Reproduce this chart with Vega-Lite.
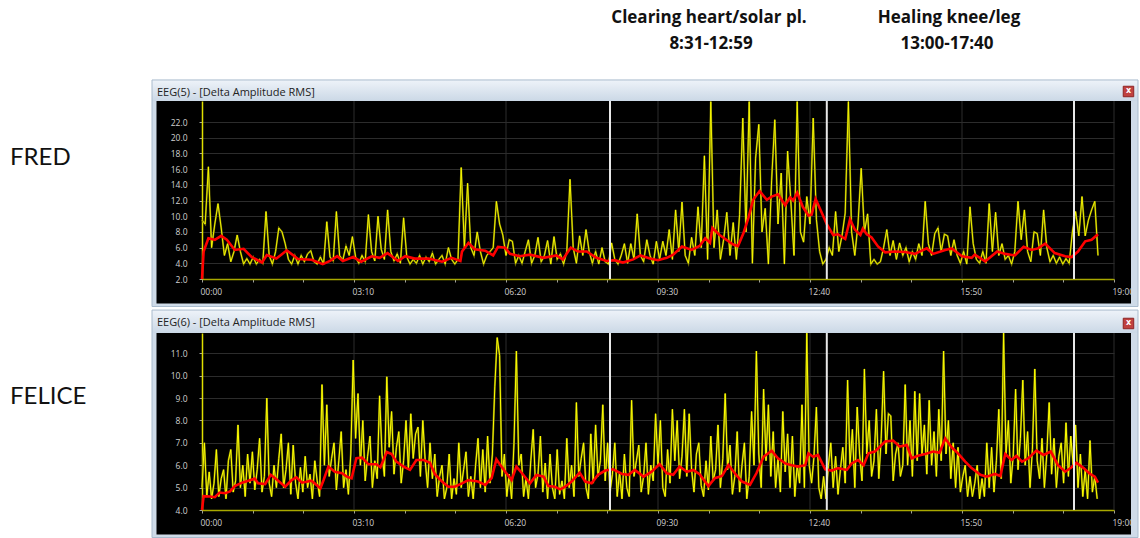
{
"$schema": "https://vega.github.io/schema/vega-lite/v6.json",
"width": 1140, "height": 538,
"autosize": {"type": "none"},
"padding": 0,
"background": "#ffffff",
"config": {"view": {"stroke": null, "fill": "#000000"}},
"datasets": {
"ty": [{"t":0,"v":9.5},{"t":4,"v":9.0},{"t":8,"v":16.3},{"t":12,"v":6.0},{"t":16,"v":9.0},{"t":20,"v":11.6},{"t":24,"v":8.5},{"t":28,"v":5.0},{"t":32,"v":6.5},{"t":36,"v":4.2},{"t":40,"v":5.5},{"t":44,"v":7.6},{"t":48,"v":5.5},{"t":52,"v":3.9},{"t":56,"v":4.6},{"t":60,"v":3.9},{"t":64,"v":4.8},{"t":68,"v":3.9},{"t":72,"v":4.5},{"t":76,"v":4.0},{"t":80,"v":10.6},{"t":84,"v":5.0},{"t":88,"v":3.9},{"t":92,"v":5.5},{"t":96,"v":8.5},{"t":100,"v":8.0},{"t":104,"v":6.5},{"t":108,"v":4.5},{"t":112,"v":3.9},{"t":116,"v":5.0},{"t":120,"v":3.9},{"t":124,"v":5.0},{"t":128,"v":4.2},{"t":132,"v":5.2},{"t":136,"v":5.6},{"t":140,"v":4.2},{"t":144,"v":3.9},{"t":148,"v":4.8},{"t":152,"v":3.9},{"t":156,"v":9.3},{"t":160,"v":4.8},{"t":164,"v":4.3},{"t":168,"v":10.6},{"t":172,"v":5.0},{"t":176,"v":4.4},{"t":180,"v":6.2},{"t":184,"v":5.0},{"t":188,"v":7.4},{"t":192,"v":4.8},{"t":196,"v":4.0},{"t":200,"v":5.0},{"t":204,"v":4.2},{"t":208,"v":10.2},{"t":212,"v":5.5},{"t":216,"v":4.3},{"t":220,"v":10.0},{"t":224,"v":5.8},{"t":228,"v":4.5},{"t":232,"v":10.8},{"t":236,"v":5.5},{"t":240,"v":4.3},{"t":244,"v":5.2},{"t":248,"v":4.0},{"t":252,"v":9.8},{"t":256,"v":4.8},{"t":260,"v":3.9},{"t":264,"v":4.5},{"t":268,"v":4.0},{"t":272,"v":5.0},{"t":276,"v":3.9},{"t":280,"v":4.8},{"t":284,"v":4.2},{"t":288,"v":5.3},{"t":292,"v":3.9},{"t":296,"v":4.5},{"t":300,"v":5.0},{"t":304,"v":3.9},{"t":308,"v":6.0},{"t":312,"v":4.5},{"t":316,"v":3.9},{"t":320,"v":4.5},{"t":324,"v":16.2},{"t":328,"v":6.0},{"t":332,"v":14.2},{"t":336,"v":6.0},{"t":340,"v":5.0},{"t":344,"v":8.0},{"t":348,"v":5.5},{"t":352,"v":3.9},{"t":356,"v":5.0},{"t":360,"v":5.5},{"t":364,"v":6.0},{"t":368,"v":11.9},{"t":372,"v":9.0},{"t":376,"v":7.6},{"t":380,"v":5.0},{"t":384,"v":7.0},{"t":388,"v":6.8},{"t":392,"v":4.0},{"t":396,"v":5.0},{"t":400,"v":4.0},{"t":404,"v":5.5},{"t":408,"v":7.0},{"t":412,"v":4.0},{"t":416,"v":5.0},{"t":420,"v":7.3},{"t":424,"v":4.2},{"t":428,"v":5.0},{"t":432,"v":6.9},{"t":436,"v":3.9},{"t":440,"v":7.4},{"t":444,"v":4.5},{"t":448,"v":5.2},{"t":452,"v":3.9},{"t":456,"v":5.5},{"t":460,"v":14.7},{"t":464,"v":6.0},{"t":468,"v":4.0},{"t":472,"v":7.5},{"t":476,"v":5.0},{"t":480,"v":8.3},{"t":484,"v":5.5},{"t":488,"v":4.0},{"t":492,"v":5.5},{"t":496,"v":3.9},{"t":500,"v":6.0},{"t":504,"v":4.2},{"t":508,"v":3.9},{"t":512,"v":6.6},{"t":516,"v":4.5},{"t":520,"v":3.9},{"t":524,"v":5.0},{"t":528,"v":6.5},{"t":532,"v":4.0},{"t":536,"v":6.5},{"t":540,"v":4.5},{"t":544,"v":10.3},{"t":548,"v":5.0},{"t":552,"v":4.2},{"t":556,"v":7.0},{"t":560,"v":5.0},{"t":564,"v":3.9},{"t":568,"v":6.8},{"t":572,"v":4.5},{"t":576,"v":6.8},{"t":580,"v":5.0},{"t":584,"v":8.3},{"t":588,"v":4.5},{"t":592,"v":10.8},{"t":596,"v":5.5},{"t":600,"v":11.8},{"t":604,"v":5.0},{"t":608,"v":4.0},{"t":612,"v":7.3},{"t":616,"v":5.0},{"t":620,"v":11.2},{"t":624,"v":6.0},{"t":628,"v":17.7},{"t":632,"v":4.5},{"t":636,"v":24.6},{"t":640,"v":6.0},{"t":644,"v":10.8},{"t":648,"v":4.5},{"t":652,"v":7.0},{"t":656,"v":10.5},{"t":660,"v":5.0},{"t":664,"v":9.2},{"t":668,"v":4.5},{"t":672,"v":10.2},{"t":676,"v":22.5},{"t":680,"v":8.0},{"t":684,"v":24.6},{"t":688,"v":4.0},{"t":692,"v":17.4},{"t":696,"v":21.7},{"t":700,"v":8.0},{"t":704,"v":11.0},{"t":708,"v":3.9},{"t":712,"v":14.5},{"t":716,"v":22.3},{"t":720,"v":9.0},{"t":724,"v":15.5},{"t":728,"v":3.9},{"t":732,"v":18.3},{"t":736,"v":12.0},{"t":740,"v":5.0},{"t":744,"v":24.6},{"t":748,"v":8.0},{"t":752,"v":6.7},{"t":756,"v":12.5},{"t":760,"v":9.0},{"t":764,"v":22.5},{"t":768,"v":9.6},{"t":772,"v":5.5},{"t":776,"v":3.9},{"t":780,"v":4.5},{"t":784,"v":6.0},{"t":788,"v":5.0},{"t":792,"v":10.6},{"t":796,"v":5.5},{"t":800,"v":7.5},{"t":804,"v":10.4},{"t":808,"v":24.6},{"t":812,"v":8.0},{"t":816,"v":5.0},{"t":820,"v":9.0},{"t":824,"v":16.1},{"t":828,"v":8.0},{"t":832,"v":10.3},{"t":836,"v":3.9},{"t":840,"v":4.5},{"t":844,"v":3.9},{"t":848,"v":4.2},{"t":852,"v":6.0},{"t":856,"v":8.3},{"t":860,"v":5.0},{"t":864,"v":6.9},{"t":868,"v":4.5},{"t":872,"v":6.6},{"t":876,"v":5.0},{"t":880,"v":6.0},{"t":884,"v":4.2},{"t":888,"v":5.5},{"t":892,"v":4.5},{"t":896,"v":6.5},{"t":900,"v":5.0},{"t":904,"v":11.9},{"t":908,"v":6.5},{"t":912,"v":5.0},{"t":916,"v":7.8},{"t":920,"v":8.5},{"t":924,"v":5.5},{"t":928,"v":7.7},{"t":932,"v":7.5},{"t":936,"v":5.0},{"t":940,"v":7.0},{"t":944,"v":5.0},{"t":948,"v":4.0},{"t":952,"v":5.5},{"t":956,"v":3.9},{"t":960,"v":11.2},{"t":964,"v":6.5},{"t":968,"v":4.5},{"t":972,"v":4.0},{"t":976,"v":5.5},{"t":980,"v":4.0},{"t":984,"v":11.6},{"t":988,"v":5.5},{"t":992,"v":10.5},{"t":996,"v":5.0},{"t":1000,"v":6.5},{"t":1004,"v":4.5},{"t":1008,"v":5.0},{"t":1012,"v":3.9},{"t":1016,"v":5.5},{"t":1020,"v":11.9},{"t":1024,"v":7.0},{"t":1028,"v":10.8},{"t":1032,"v":5.5},{"t":1036,"v":4.2},{"t":1040,"v":8.0},{"t":1044,"v":7.8},{"t":1048,"v":5.0},{"t":1052,"v":10.8},{"t":1056,"v":6.0},{"t":1060,"v":4.2},{"t":1064,"v":5.0},{"t":1068,"v":4.0},{"t":1072,"v":4.8},{"t":1076,"v":3.9},{"t":1080,"v":4.6},{"t":1084,"v":4.0},{"t":1088,"v":8.0},{"t":1092,"v":10.6},{"t":1096,"v":7.5},{"t":1100,"v":12.5},{"t":1104,"v":7.5},{"t":1108,"v":9.5},{"t":1112,"v":10.8},{"t":1116,"v":11.9},{"t":1120,"v":5.0}],
"tr": [{"t":0,"v":2.0},{"t":2,"v":5.5},{"t":8,"v":7.2},{"t":16,"v":7.0},{"t":24,"v":7.5},{"t":31,"v":7.0},{"t":41,"v":5.7},{"t":52,"v":5.85},{"t":62,"v":4.8},{"t":75,"v":4.1},{"t":81,"v":5.05},{"t":93,"v":4.6},{"t":106,"v":5.65},{"t":120,"v":4.55},{"t":137,"v":4.46},{"t":151,"v":3.9},{"t":160,"v":4.3},{"t":169,"v":4.9},{"t":176,"v":4.3},{"t":189,"v":4.8},{"t":199,"v":4.2},{"t":212,"v":4.9},{"t":222,"v":4.7},{"t":232,"v":5.3},{"t":245,"v":4.3},{"t":254,"v":4.9},{"t":266,"v":4.6},{"t":283,"v":4.6},{"t":300,"v":4.2},{"t":312,"v":4.7},{"t":323,"v":4.3},{"t":325,"v":5.5},{"t":333,"v":6.6},{"t":341,"v":5.8},{"t":354,"v":5.6},{"t":364,"v":5.0},{"t":370,"v":6.1},{"t":379,"v":6.0},{"t":385,"v":5.2},{"t":397,"v":4.9},{"t":410,"v":5.1},{"t":427,"v":4.7},{"t":443,"v":5.0},{"t":451,"v":4.5},{"t":461,"v":6.0},{"t":470,"v":5.5},{"t":481,"v":5.5},{"t":493,"v":4.7},{"t":506,"v":4.3},{"t":516,"v":4.4},{"t":526,"v":4.1},{"t":539,"v":4.5},{"t":548,"v":5.0},{"t":560,"v":4.6},{"t":570,"v":4.4},{"t":581,"v":4.7},{"t":589,"v":5.1},{"t":600,"v":6.15},{"t":612,"v":5.7},{"t":622,"v":6.2},{"t":629,"v":7.2},{"t":635,"v":6.6},{"t":638,"v":8.5},{"t":647,"v":7.6},{"t":664,"v":6.4},{"t":670,"v":6.2},{"t":677,"v":7.9},{"t":683,"v":9.8},{"t":689,"v":12.1},{"t":697,"v":13.2},{"t":706,"v":12.1},{"t":712,"v":12.5},{"t":720,"v":12.8},{"t":729,"v":11.4},{"t":735,"v":12.4},{"t":739,"v":12.0},{"t":744,"v":13.0},{"t":751,"v":11.2},{"t":758,"v":10.1},{"t":762,"v":10.2},{"t":767,"v":12.2},{"t":774,"v":10.6},{"t":781,"v":9.0},{"t":789,"v":7.6},{"t":795,"v":7.7},{"t":804,"v":7.1},{"t":810,"v":9.6},{"t":816,"v":8.3},{"t":823,"v":7.6},{"t":826,"v":8.4},{"t":831,"v":7.7},{"t":837,"v":7.3},{"t":845,"v":6.15},{"t":854,"v":5.4},{"t":866,"v":5.5},{"t":879,"v":5.45},{"t":891,"v":5.2},{"t":906,"v":5.9},{"t":914,"v":5.2},{"t":929,"v":5.7},{"t":937,"v":5.9},{"t":950,"v":4.9},{"t":962,"v":4.7},{"t":966,"v":5.1},{"t":979,"v":4.25},{"t":994,"v":5.5},{"t":1004,"v":5.2},{"t":1016,"v":5.0},{"t":1027,"v":6.1},{"t":1037,"v":5.7},{"t":1045,"v":5.9},{"t":1054,"v":6.5},{"t":1066,"v":5.3},{"t":1079,"v":4.9},{"t":1087,"v":4.8},{"t":1095,"v":5.5},{"t":1104,"v":6.8},{"t":1112,"v":7.0},{"t":1120,"v":7.7}],
"by": [{"t":0,"v":5.0},{"t":3,"v":7.0},{"t":6,"v":4.6},{"t":9,"v":5.7},{"t":12,"v":4.5},{"t":15,"v":5.2},{"t":18,"v":6.7},{"t":21,"v":4.6},{"t":24,"v":5.4},{"t":27,"v":5.8},{"t":30,"v":4.5},{"t":33,"v":6.2},{"t":36,"v":6.7},{"t":39,"v":4.8},{"t":42,"v":5.3},{"t":45,"v":7.8},{"t":48,"v":5.0},{"t":51,"v":6.0},{"t":54,"v":4.6},{"t":57,"v":6.5},{"t":60,"v":5.2},{"t":63,"v":6.6},{"t":66,"v":4.9},{"t":69,"v":5.8},{"t":72,"v":7.2},{"t":75,"v":4.8},{"t":78,"v":5.5},{"t":81,"v":9.0},{"t":84,"v":5.2},{"t":87,"v":4.6},{"t":90,"v":6.0},{"t":93,"v":5.0},{"t":96,"v":6.3},{"t":99,"v":7.4},{"t":102,"v":5.0},{"t":105,"v":5.8},{"t":108,"v":7.0},{"t":111,"v":4.7},{"t":114,"v":6.9},{"t":117,"v":5.2},{"t":120,"v":4.5},{"t":123,"v":5.9},{"t":126,"v":4.8},{"t":129,"v":6.4},{"t":132,"v":5.0},{"t":135,"v":5.6},{"t":138,"v":4.5},{"t":141,"v":6.2},{"t":144,"v":5.3},{"t":147,"v":4.6},{"t":150,"v":9.6},{"t":153,"v":6.0},{"t":156,"v":8.7},{"t":159,"v":5.5},{"t":162,"v":6.3},{"t":165,"v":7.0},{"t":168,"v":4.9},{"t":171,"v":6.2},{"t":174,"v":7.5},{"t":177,"v":5.0},{"t":180,"v":5.8},{"t":183,"v":4.7},{"t":186,"v":6.5},{"t":189,"v":10.7},{"t":192,"v":7.2},{"t":195,"v":9.2},{"t":198,"v":6.0},{"t":201,"v":8.0},{"t":204,"v":5.3},{"t":207,"v":6.4},{"t":210,"v":7.3},{"t":213,"v":5.0},{"t":216,"v":6.2},{"t":219,"v":5.4},{"t":222,"v":9.1},{"t":225,"v":6.5},{"t":228,"v":5.5},{"t":231,"v":9.95},{"t":234,"v":6.8},{"t":237,"v":8.4},{"t":240,"v":5.6},{"t":243,"v":6.8},{"t":246,"v":7.5},{"t":249,"v":5.2},{"t":252,"v":6.2},{"t":255,"v":8.0},{"t":258,"v":5.8},{"t":261,"v":8.3},{"t":264,"v":6.3},{"t":267,"v":7.4},{"t":270,"v":7.7},{"t":273,"v":5.5},{"t":276,"v":8.0},{"t":279,"v":6.2},{"t":282,"v":5.0},{"t":285,"v":7.0},{"t":288,"v":5.4},{"t":291,"v":6.5},{"t":294,"v":4.6},{"t":297,"v":5.5},{"t":300,"v":6.0},{"t":303,"v":4.5},{"t":306,"v":5.0},{"t":309,"v":6.5},{"t":312,"v":4.5},{"t":315,"v":5.4},{"t":318,"v":4.7},{"t":321,"v":7.0},{"t":324,"v":5.0},{"t":327,"v":5.8},{"t":330,"v":6.6},{"t":333,"v":4.6},{"t":336,"v":5.5},{"t":339,"v":4.5},{"t":342,"v":6.0},{"t":345,"v":7.2},{"t":348,"v":5.0},{"t":351,"v":6.7},{"t":354,"v":4.8},{"t":357,"v":7.3},{"t":360,"v":5.2},{"t":363,"v":6.5},{"t":366,"v":9.5},{"t":369,"v":11.7},{"t":372,"v":10.9},{"t":375,"v":5.5},{"t":378,"v":6.5},{"t":381,"v":4.6},{"t":384,"v":5.6},{"t":387,"v":4.5},{"t":390,"v":7.0},{"t":393,"v":11.1},{"t":396,"v":6.0},{"t":399,"v":6.5},{"t":402,"v":4.6},{"t":405,"v":5.4},{"t":408,"v":4.5},{"t":411,"v":6.2},{"t":414,"v":7.6},{"t":417,"v":5.0},{"t":420,"v":5.6},{"t":423,"v":7.3},{"t":426,"v":4.8},{"t":429,"v":6.1},{"t":432,"v":4.5},{"t":435,"v":6.5},{"t":438,"v":5.0},{"t":441,"v":4.5},{"t":444,"v":6.7},{"t":447,"v":4.7},{"t":450,"v":5.3},{"t":453,"v":4.5},{"t":456,"v":7.2},{"t":459,"v":5.0},{"t":462,"v":6.0},{"t":465,"v":4.6},{"t":468,"v":8.8},{"t":471,"v":5.5},{"t":474,"v":6.3},{"t":477,"v":7.0},{"t":480,"v":5.0},{"t":483,"v":4.5},{"t":486,"v":7.4},{"t":489,"v":5.2},{"t":492,"v":7.8},{"t":495,"v":5.5},{"t":498,"v":6.2},{"t":501,"v":8.7},{"t":504,"v":5.3},{"t":507,"v":7.0},{"t":510,"v":4.8},{"t":513,"v":5.6},{"t":516,"v":7.0},{"t":519,"v":4.6},{"t":522,"v":5.7},{"t":525,"v":4.5},{"t":528,"v":6.5},{"t":531,"v":5.0},{"t":534,"v":4.6},{"t":537,"v":8.9},{"t":540,"v":5.5},{"t":543,"v":6.2},{"t":546,"v":6.9},{"t":549,"v":4.8},{"t":552,"v":5.5},{"t":555,"v":7.0},{"t":558,"v":4.7},{"t":561,"v":6.0},{"t":564,"v":5.3},{"t":567,"v":8.3},{"t":570,"v":6.0},{"t":573,"v":8.0},{"t":576,"v":5.0},{"t":579,"v":4.6},{"t":582,"v":6.7},{"t":585,"v":5.2},{"t":588,"v":8.5},{"t":591,"v":6.2},{"t":594,"v":8.0},{"t":597,"v":5.4},{"t":600,"v":6.4},{"t":603,"v":8.5},{"t":606,"v":5.5},{"t":609,"v":8.3},{"t":612,"v":5.8},{"t":615,"v":4.8},{"t":618,"v":6.5},{"t":621,"v":7.0},{"t":624,"v":5.1},{"t":627,"v":4.6},{"t":630,"v":6.2},{"t":633,"v":4.9},{"t":636,"v":7.3},{"t":639,"v":5.3},{"t":642,"v":5.8},{"t":645,"v":7.8},{"t":648,"v":5.0},{"t":651,"v":6.3},{"t":654,"v":9.2},{"t":657,"v":5.8},{"t":660,"v":6.9},{"t":663,"v":4.7},{"t":666,"v":5.5},{"t":669,"v":7.5},{"t":672,"v":4.8},{"t":675,"v":6.0},{"t":678,"v":7.0},{"t":681,"v":4.5},{"t":684,"v":5.5},{"t":687,"v":8.4},{"t":690,"v":6.0},{"t":693,"v":11.1},{"t":696,"v":6.5},{"t":699,"v":5.0},{"t":702,"v":9.4},{"t":705,"v":6.2},{"t":708,"v":8.7},{"t":711,"v":5.5},{"t":714,"v":7.5},{"t":717,"v":5.0},{"t":720,"v":6.3},{"t":723,"v":4.8},{"t":726,"v":8.4},{"t":729,"v":5.7},{"t":732,"v":7.4},{"t":735,"v":5.0},{"t":738,"v":7.3},{"t":741,"v":4.6},{"t":744,"v":6.0},{"t":747,"v":5.2},{"t":750,"v":8.7},{"t":753,"v":5.0},{"t":756,"v":11.9},{"t":759,"v":6.0},{"t":762,"v":5.2},{"t":765,"v":6.4},{"t":768,"v":8.6},{"t":771,"v":5.0},{"t":774,"v":4.5},{"t":777,"v":5.5},{"t":780,"v":4.5},{"t":783,"v":6.0},{"t":786,"v":7.0},{"t":789,"v":5.0},{"t":792,"v":6.4},{"t":795,"v":4.7},{"t":798,"v":5.8},{"t":801,"v":6.8},{"t":804,"v":5.2},{"t":807,"v":9.8},{"t":810,"v":6.0},{"t":813,"v":7.6},{"t":816,"v":5.0},{"t":819,"v":8.6},{"t":822,"v":6.5},{"t":825,"v":5.3},{"t":828,"v":10.3},{"t":831,"v":6.5},{"t":834,"v":8.0},{"t":837,"v":5.5},{"t":840,"v":6.2},{"t":843,"v":8.5},{"t":846,"v":5.4},{"t":849,"v":7.2},{"t":852,"v":10.2},{"t":855,"v":6.5},{"t":858,"v":8.3},{"t":861,"v":8.2},{"t":864,"v":5.3},{"t":867,"v":6.5},{"t":870,"v":7.0},{"t":873,"v":5.5},{"t":876,"v":6.0},{"t":879,"v":9.6},{"t":882,"v":6.0},{"t":885,"v":8.0},{"t":888,"v":5.5},{"t":891,"v":9.3},{"t":894,"v":6.2},{"t":897,"v":9.2},{"t":900,"v":6.5},{"t":903,"v":7.8},{"t":906,"v":5.6},{"t":909,"v":8.9},{"t":912,"v":6.0},{"t":915,"v":7.5},{"t":918,"v":5.5},{"t":921,"v":8.5},{"t":924,"v":6.2},{"t":927,"v":11.1},{"t":930,"v":6.5},{"t":933,"v":8.0},{"t":936,"v":5.4},{"t":939,"v":7.0},{"t":942,"v":5.0},{"t":945,"v":6.8},{"t":948,"v":4.8},{"t":951,"v":5.5},{"t":954,"v":6.0},{"t":957,"v":4.6},{"t":960,"v":5.5},{"t":963,"v":4.6},{"t":966,"v":5.2},{"t":969,"v":6.0},{"t":972,"v":4.5},{"t":975,"v":5.4},{"t":978,"v":4.6},{"t":981,"v":7.0},{"t":984,"v":5.0},{"t":987,"v":6.8},{"t":990,"v":4.8},{"t":993,"v":6.2},{"t":996,"v":8.5},{"t":999,"v":5.4},{"t":1002,"v":11.9},{"t":1005,"v":6.5},{"t":1008,"v":8.0},{"t":1011,"v":5.2},{"t":1014,"v":6.4},{"t":1017,"v":9.4},{"t":1020,"v":5.8},{"t":1023,"v":7.2},{"t":1026,"v":9.8},{"t":1029,"v":6.0},{"t":1032,"v":7.5},{"t":1035,"v":5.0},{"t":1038,"v":6.7},{"t":1041,"v":10.3},{"t":1044,"v":6.2},{"t":1047,"v":5.4},{"t":1050,"v":7.2},{"t":1053,"v":5.0},{"t":1056,"v":6.5},{"t":1059,"v":8.8},{"t":1062,"v":5.6},{"t":1065,"v":7.2},{"t":1068,"v":5.0},{"t":1071,"v":6.4},{"t":1074,"v":7.0},{"t":1077,"v":5.2},{"t":1080,"v":7.9},{"t":1083,"v":5.5},{"t":1086,"v":7.3},{"t":1089,"v":6.0},{"t":1092,"v":7.8},{"t":1095,"v":5.0},{"t":1098,"v":6.5},{"t":1101,"v":4.6},{"t":1104,"v":5.8},{"t":1107,"v":4.5},{"t":1110,"v":7.1},{"t":1113,"v":4.8},{"t":1116,"v":5.5},{"t":1119,"v":4.5}],
"br": [{"t":0,"v":4.0},{"t":2,"v":4.62},{"t":10,"v":4.6},{"t":16,"v":4.57},{"t":22,"v":4.78},{"t":29,"v":4.75},{"t":35,"v":4.83},{"t":41,"v":5.07},{"t":50,"v":5.22},{"t":58,"v":5.31},{"t":66,"v":5.4},{"t":70,"v":5.19},{"t":79,"v":5.16},{"t":86,"v":5.57},{"t":93,"v":5.37},{"t":104,"v":5.04},{"t":112,"v":5.34},{"t":118,"v":5.46},{"t":125,"v":5.22},{"t":137,"v":5.31},{"t":148,"v":4.97},{"t":152,"v":5.34},{"t":158,"v":5.94},{"t":166,"v":5.71},{"t":175,"v":5.64},{"t":181,"v":5.49},{"t":187,"v":5.42},{"t":193,"v":6.31},{"t":200,"v":6.34},{"t":208,"v":6.04},{"t":218,"v":6.04},{"t":223,"v":5.91},{"t":231,"v":6.59},{"t":237,"v":6.5},{"t":243,"v":6.16},{"t":252,"v":5.94},{"t":260,"v":5.79},{"t":268,"v":6.23},{"t":277,"v":6.23},{"t":285,"v":6.11},{"t":291,"v":5.61},{"t":300,"v":5.27},{"t":308,"v":5.04},{"t":316,"v":5.04},{"t":325,"v":5.19},{"t":333,"v":5.34},{"t":345,"v":5.27},{"t":354,"v":5.12},{"t":362,"v":5.42},{"t":368,"v":6.26},{"t":372,"v":6.05},{"t":379,"v":5.71},{"t":387,"v":5.34},{"t":393,"v":5.94},{"t":400,"v":5.64},{"t":410,"v":5.19},{"t":418,"v":5.57},{"t":427,"v":5.49},{"t":433,"v":5.07},{"t":441,"v":5.04},{"t":448,"v":4.92},{"t":454,"v":5.04},{"t":462,"v":5.27},{"t":472,"v":5.67},{"t":479,"v":5.27},{"t":487,"v":5.19},{"t":495,"v":5.57},{"t":504,"v":5.76},{"t":514,"v":5.82},{"t":525,"v":5.61},{"t":533,"v":5.57},{"t":541,"v":5.79},{"t":552,"v":5.49},{"t":562,"v":5.71},{"t":572,"v":6.05},{"t":581,"v":5.64},{"t":589,"v":5.57},{"t":597,"v":5.94},{"t":606,"v":5.71},{"t":614,"v":5.79},{"t":622,"v":5.6},{"t":633,"v":5.07},{"t":641,"v":5.42},{"t":650,"v":5.52},{"t":658,"v":6.01},{"t":666,"v":5.64},{"t":675,"v":5.27},{"t":685,"v":5.12},{"t":693,"v":5.64},{"t":702,"v":6.38},{"t":712,"v":6.65},{"t":720,"v":6.31},{"t":729,"v":6.08},{"t":737,"v":6.0},{"t":745,"v":5.94},{"t":754,"v":6.0},{"t":758,"v":6.53},{"t":764,"v":6.38},{"t":770,"v":6.46},{"t":779,"v":5.82},{"t":787,"v":5.76},{"t":795,"v":5.87},{"t":806,"v":5.79},{"t":812,"v":6.08},{"t":820,"v":6.23},{"t":827,"v":6.0},{"t":833,"v":6.53},{"t":841,"v":6.61},{"t":854,"v":7.06},{"t":864,"v":7.1},{"t":872,"v":6.83},{"t":881,"v":6.9},{"t":887,"v":6.31},{"t":895,"v":6.42},{"t":904,"v":6.5},{"t":914,"v":6.61},{"t":922,"v":6.56},{"t":929,"v":7.2},{"t":937,"v":6.8},{"t":945,"v":6.53},{"t":954,"v":6.16},{"t":962,"v":5.87},{"t":973,"v":5.57},{"t":981,"v":5.49},{"t":991,"v":5.61},{"t":998,"v":5.52},{"t":1004,"v":6.5},{"t":1012,"v":6.23},{"t":1018,"v":6.42},{"t":1025,"v":6.16},{"t":1033,"v":6.31},{"t":1043,"v":6.65},{"t":1052,"v":6.46},{"t":1061,"v":6.61},{"t":1070,"v":6.0},{"t":1079,"v":5.71},{"t":1087,"v":5.91},{"t":1093,"v":6.11},{"t":1102,"v":5.87},{"t":1110,"v":5.61},{"t":1116,"v":5.49},{"t":1120,"v":5.22}],
"ev": [{"t":510},{"t":781},{"t":1090}],
"vg": [{"t":190},{"t":380},{"t":570},{"t":760},{"t":950},{"t":1140}]
},
"layer": [
{
"layer": [
{"data": {"name": "vg"}, "mark": {"type": "rule", "color": "#2c2c2c", "strokeWidth": 1},
 "encoding": {"x": {"field": "t", "type": "quantitative"}, "y": {"datum": 2, "type": "quantitative"}, "y2": {"datum": 24.68}}},
{"data": {"name": "ty"}, "mark": {"type": "line", "color": "#6e6e00", "strokeWidth": 1.9},
 "encoding": {"x": {"field": "t", "type": "quantitative"}, "y": {"field": "v", "type": "quantitative"}}},
{"data": {"name": "ty"}, "mark": {"type": "line", "color": "#ffff00", "strokeWidth": 0.9},
 "encoding": {
  "x": {"field": "t", "type": "quantitative",
   "scale": {"domain": [0, 1140], "range": [202, 1114], "nice": false, "zero": false},
   "axis": {"orient": "bottom", "offset": -259, "grid": false,
    "values": [0,31.6667,63.3333,95,126.6667,158.3333,190,221.6667,253.3333,285,316.6667,348.3333,380,411.6667,443.3333,475,506.6667,538.3333,570,601.6667,633.3333,665,696.6667,728.3333,760,791.6667,823.3333,855,886.6667,918.3333,950,981.6667,1013.3333,1045,1076.6667,1108.3333,1140],
    "labelExpr": "abs(datum.value/190-round(datum.value/190))<0.001 ? ((floor(datum.value/60)<10?'0':'')+floor(datum.value/60)+':'+(round(datum.value%60)<10?'0':'')+round(datum.value%60)) : ''",
    "domainColor": "#a8a800", "domainWidth": 1.5, "tickColor": "#a0a0a0", "tickSize": 3,
    "labelColor": "#d0d0d0", "labelFont": "Open Sans", "labelFontSize": 8.5, "labelAlign": "left", "labelOffset": -2, "labelPadding": 5,
    "labelOverlap": false, "labelBound": false, "labelFlush": false, "title": null}},
  "y": {"field": "v", "type": "quantitative",
   "scale": {"domain": [2, 24.68], "range": [279, 101], "nice": false, "zero": false},
   "axis": {"orient": "left", "offset": -202, "grid": true, "gridColor": "#2c2c2c",
    "gridOpacity": {"condition": {"test": "abs(datum.value/2-round(datum.value/2))<0.001 && datum.value>2.5", "value": 1}, "value": 0},
    "values": [2,2.25,2.5,2.75,3,3.25,3.5,3.75,4,4.25,4.5,4.75,5,5.25,5.5,5.75,6,6.25,6.5,6.75,7,7.25,7.5,7.75,8,8.25,8.5,8.75,9,9.25,9.5,9.75,10,10.25,10.5,10.75,11,11.25,11.5,11.75,12,12.25,12.5,12.75,13,13.25,13.5,13.75,14,14.25,14.5,14.75,15,15.25,15.5,15.75,16,16.25,16.5,16.75,17,17.25,17.5,17.75,18,18.25,18.5,18.75,19,19.25,19.5,19.75,20,20.25,20.5,20.75,21,21.25,21.5,21.75,22],
    "labelExpr": "abs(datum.value/2-round(datum.value/2))<0.001 ? format(datum.value,'.1f') : ''",
    "domainColor": "#e0e000", "domainWidth": 1.5, "tickColor": "#a0a0a0", "tickSize": 3,
    "labelColor": "#d0d0d0", "labelFont": "Open Sans", "labelFontSize": 8.5, "labelPadding": 12,
    "labelOverlap": false, "labelBound": false, "labelFlush": false, "title": null}}
 }},
{"data": {"name": "tr"}, "mark": {"type": "line", "color": "#ff0000", "strokeWidth": 2.6},
 "encoding": {"x": {"field": "t", "type": "quantitative"}, "y": {"field": "v", "type": "quantitative"}}},
{"data": {"name": "ev"}, "mark": {"type": "rule", "color": "#e8e8e8", "strokeWidth": 2},
 "encoding": {"x": {"field": "t", "type": "quantitative"}, "y": {"datum": 2, "type": "quantitative"}, "y2": {"datum": 24.68}}},
{"data": {"values": [{}]}, "mark": {"type": "rect", "fill": "#ffffff"},
 "encoding": {"x": {"datum": -260, "type": "quantitative"}, "x2": {"datum": 1180}, "y": {"datum": 27.36, "type": "quantitative"}, "y2": {"datum": 40}}},
{"data": {"values": [{}]}, "mark": {"type": "rect", "fill": "#ffffff"},
 "encoding": {"x": {"datum": -260, "type": "quantitative"}, "x2": {"datum": -62.5}, "y": {"datum": 40, "type": "quantitative"}, "y2": {"datum": -33}}},
{"data": {"values": [{}]}, "mark": {"type": "rect", "fill": "#ffffff"},
 "encoding": {"x": {"datum": 1170, "type": "quantitative"}, "x2": {"datum": 1180}, "y": {"datum": 40, "type": "quantitative"}, "y2": {"datum": -33}}},
{"data": {"values": [{}]}, "mark": {"type": "rect", "fill": "#ffffff"},
 "encoding": {"x": {"datum": -62.5, "type": "quantitative"}, "x2": {"datum": 1180}, "y": {"datum": -1.45, "type": "quantitative"}, "y2": {"datum": -2.0}}},
{"data": {"values": [{}]}, "mark": {"type": "rect", "fill": "#cfdbe8"},
 "encoding": {"x": {"datum": -62.5, "type": "quantitative"}, "x2": {"datum": -56.875}, "y": {"datum": 24.68, "type": "quantitative"}, "y2": {"datum": -1.504}}},
{"data": {"values": [{}]}, "mark": {"type": "rect", "fill": "#cfdbe8"},
 "encoding": {"x": {"datum": 1161.25, "type": "quantitative"}, "x2": {"datum": 1170}, "y": {"datum": 24.68, "type": "quantitative"}, "y2": {"datum": -1.504}}},
{"data": {"values": [{}]}, "mark": {"type": "rect", "fill": "#cfdbe8"},
 "encoding": {"x": {"datum": -62.5, "type": "quantitative"}, "x2": {"datum": 1170}, "y": {"datum": -1.12, "type": "quantitative"}, "y2": {"datum": -1.504}}},
{"data": {"values": [{}]}, "mark": {"type": "rect", "fill": {"gradient": "linear", "x1": 0, "y1": 0, "x2": 0, "y2": 1, "stops": [{"offset": 0, "color": "#eef3f9"}, {"offset": 1, "color": "#cbd8e6"}]}},
 "encoding": {"x": {"datum": -62.5, "type": "quantitative"}, "x2": {"datum": 1170}, "y": {"datum": 27.36, "type": "quantitative"}, "y2": {"datum": 24.68}}},
{"data": {"values": [{}]}, "mark": {"type": "rect", "filled": false, "stroke": "#a9bbcd", "strokeWidth": 1},
 "encoding": {"x": {"datum": -62.5, "type": "quantitative"}, "x2": {"datum": 1170}, "y": {"datum": 27.36, "type": "quantitative"}, "y2": {"datum": -1.504}}},
{"data": {"values": [{}]}, "mark": {"type": "text", "text": "EEG(5) - [Delta Amplitude RMS]", "align": "left", "baseline": "middle", "font": "Open Sans", "fontSize": 11, "color": "#222222"},
 "encoding": {"x": {"datum": -56.25, "type": "quantitative"}, "y": {"datum": 25.7, "type": "quantitative"}}},
{"data": {"values": [{}]}, "mark": {"type": "square", "size": 110, "filled": true, "fill": "#c0413f", "stroke": "#8e2424", "strokeWidth": 1, "opacity": 1},
 "encoding": {"x": {"datum": 1158.1, "type": "quantitative"}, "y": {"datum": 25.89, "type": "quantitative"}}},
{"data": {"values": [{}]}, "mark": {"type": "text", "text": "x", "align": "center", "baseline": "middle", "font": "DejaVu Sans", "fontSize": 8, "fontWeight": "bold", "color": "#ffffff"},
 "encoding": {"x": {"datum": 1158.1, "type": "quantitative"}, "y": {"datum": 25.95, "type": "quantitative"}}},
{"data": {"values": [{}]}, "mark": {"type": "text", "text": "Clearing heart/solar pl.", "align": "center", "baseline": "middle", "font": "Open Sans", "fontSize": 17, "fontWeight": "bold", "color": "#111111"},
 "encoding": {"x": {"datum": 633.75, "type": "quantitative"}, "y": {"datum": 35.3, "type": "quantitative"}}},
{"data": {"values": [{}]}, "mark": {"type": "text", "text": "8:31-12:59", "align": "center", "baseline": "middle", "font": "Open Sans", "fontSize": 17, "fontWeight": "bold", "color": "#111111"},
 "encoding": {"x": {"datum": 636.25, "type": "quantitative"}, "y": {"datum": 32.0, "type": "quantitative"}}},
{"data": {"values": [{}]}, "mark": {"type": "text", "text": "Healing knee/leg", "align": "center", "baseline": "middle", "font": "Open Sans", "fontSize": 17, "fontWeight": "bold", "color": "#111111"},
 "encoding": {"x": {"datum": 933.75, "type": "quantitative"}, "y": {"datum": 35.3, "type": "quantitative"}}},
{"data": {"values": [{}]}, "mark": {"type": "text", "text": "13:00-17:40", "align": "center", "baseline": "middle", "font": "Open Sans", "fontSize": 17, "fontWeight": "bold", "color": "#111111"},
 "encoding": {"x": {"datum": 931.25, "type": "quantitative"}, "y": {"datum": 32.0, "type": "quantitative"}}},
{"data": {"values": [{}]}, "mark": {"type": "text", "text": "FRED", "align": "left", "baseline": "middle", "font": "Lato", "fontSize": 24, "color": "#111111"},
 "encoding": {"x": {"datum": -240, "type": "quantitative"}, "y": {"datum": 17.42, "type": "quantitative"}}}
]
},
{
"layer": [
{"data": {"name": "vg"}, "mark": {"type": "rule", "color": "#2c2c2c", "strokeWidth": 1},
 "encoding": {"x": {"field": "t", "type": "quantitative"}, "y": {"datum": 4, "type": "quantitative"}, "y2": {"datum": 11.905}}},
{"data": {"name": "by"}, "mark": {"type": "line", "color": "#6e6e00", "strokeWidth": 2.0},
 "encoding": {"x": {"field": "t", "type": "quantitative"}, "y": {"field": "v", "type": "quantitative"}}},
{"data": {"name": "by"}, "mark": {"type": "line", "color": "#ffff00", "strokeWidth": 1.0},
 "encoding": {
  "x": {"field": "t", "type": "quantitative",
   "scale": {"domain": [0, 1140], "range": [202, 1114], "nice": false, "zero": false},
   "axis": {"orient": "bottom", "offset": -28, "grid": false,
    "values": [0,31.6667,63.3333,95,126.6667,158.3333,190,221.6667,253.3333,285,316.6667,348.3333,380,411.6667,443.3333,475,506.6667,538.3333,570,601.6667,633.3333,665,696.6667,728.3333,760,791.6667,823.3333,855,886.6667,918.3333,950,981.6667,1013.3333,1045,1076.6667,1108.3333,1140],
    "labelExpr": "abs(datum.value/190-round(datum.value/190))<0.001 ? ((floor(datum.value/60)<10?'0':'')+floor(datum.value/60)+':'+(round(datum.value%60)<10?'0':'')+round(datum.value%60)) : ''",
    "domainColor": "#a8a800", "domainWidth": 1.5, "tickColor": "#a0a0a0", "tickSize": 3,
    "labelColor": "#d0d0d0", "labelFont": "Open Sans", "labelFontSize": 8.5, "labelAlign": "left", "labelOffset": -2, "labelPadding": 5,
    "labelOverlap": false, "labelBound": false, "labelFlush": false, "title": null}},
  "y": {"field": "v", "type": "quantitative",
   "scale": {"domain": [4, 11.905], "range": [510, 333], "nice": false, "zero": false},
   "axis": {"orient": "left", "offset": -202, "grid": true, "gridColor": "#2c2c2c",
    "gridOpacity": {"condition": {"test": "abs(datum.value-round(datum.value))<0.001 && datum.value>4.5", "value": 1}, "value": 0},
    "values": [4,4.125,4.25,4.375,4.5,4.625,4.75,4.875,5,5.125,5.25,5.375,5.5,5.625,5.75,5.875,6,6.125,6.25,6.375,6.5,6.625,6.75,6.875,7,7.125,7.25,7.375,7.5,7.625,7.75,7.875,8,8.125,8.25,8.375,8.5,8.625,8.75,8.875,9,9.125,9.25,9.375,9.5,9.625,9.75,9.875,10,10.125,10.25,10.375,10.5,10.625,10.75,10.875,11],
    "labelExpr": "abs(datum.value-round(datum.value))<0.001 ? format(datum.value,'.1f') : ''",
    "domainColor": "#e0e000", "domainWidth": 1.5, "tickColor": "#a0a0a0", "tickSize": 3,
    "labelColor": "#d0d0d0", "labelFont": "Open Sans", "labelFontSize": 8.5, "labelPadding": 12,
    "labelOverlap": false, "labelBound": false, "labelFlush": false, "title": null}}
 }},
{"data": {"name": "br"}, "mark": {"type": "line", "color": "#ff0000", "strokeWidth": 2.6},
 "encoding": {"x": {"field": "t", "type": "quantitative"}, "y": {"field": "v", "type": "quantitative"}}},
{"data": {"name": "ev"}, "mark": {"type": "rule", "color": "#e8e8e8", "strokeWidth": 2},
 "encoding": {"x": {"field": "t", "type": "quantitative"}, "y": {"datum": 4, "type": "quantitative"}, "y2": {"datum": 11.905}}},
{"data": {"values": [{}]}, "mark": {"type": "rect", "fill": "#cfdbe8"},
 "encoding": {"x": {"datum": -62.5, "type": "quantitative"}, "x2": {"datum": -56.875}, "y": {"datum": 11.905, "type": "quantitative"}, "y2": {"datum": 2.75}}},
{"data": {"values": [{}]}, "mark": {"type": "rect", "fill": "#cfdbe8"},
 "encoding": {"x": {"datum": 1161.25, "type": "quantitative"}, "x2": {"datum": 1170}, "y": {"datum": 11.905, "type": "quantitative"}, "y2": {"datum": 2.75}}},
{"data": {"values": [{}]}, "mark": {"type": "rect", "fill": "#cfdbe8"},
 "encoding": {"x": {"datum": -62.5, "type": "quantitative"}, "x2": {"datum": 1170}, "y": {"datum": 2.906, "type": "quantitative"}, "y2": {"datum": 2.7}}},
{"data": {"values": [{}]}, "mark": {"type": "rect", "fill": {"gradient": "linear", "x1": 0, "y1": 0, "x2": 0, "y2": 1, "stops": [{"offset": 0, "color": "#eef3f9"}, {"offset": 1, "color": "#cbd8e6"}]}},
 "encoding": {"x": {"datum": -62.5, "type": "quantitative"}, "x2": {"datum": 1170}, "y": {"datum": 12.93, "type": "quantitative"}, "y2": {"datum": 11.905}}},
{"data": {"values": [{}]}, "mark": {"type": "rect", "filled": false, "stroke": "#a9bbcd", "strokeWidth": 1},
 "encoding": {"x": {"datum": -62.5, "type": "quantitative"}, "x2": {"datum": 1170}, "y": {"datum": 12.93, "type": "quantitative"}, "y2": {"datum": 2.77}}},
{"data": {"values": [{}]}, "mark": {"type": "text", "text": "EEG(6) - [Delta Amplitude RMS]", "align": "left", "baseline": "middle", "font": "Open Sans", "fontSize": 11, "color": "#222222"},
 "encoding": {"x": {"datum": -56.25, "type": "quantitative"}, "y": {"datum": 12.33, "type": "quantitative"}}},
{"data": {"values": [{}]}, "mark": {"type": "square", "size": 110, "filled": true, "fill": "#c0413f", "stroke": "#8e2424", "strokeWidth": 1, "opacity": 1},
 "encoding": {"x": {"datum": 1158.1, "type": "quantitative"}, "y": {"datum": 12.33, "type": "quantitative"}}},
{"data": {"values": [{}]}, "mark": {"type": "text", "text": "x", "align": "center", "baseline": "middle", "font": "DejaVu Sans", "fontSize": 8, "fontWeight": "bold", "color": "#ffffff"},
 "encoding": {"x": {"datum": 1158.1, "type": "quantitative"}, "y": {"datum": 12.35, "type": "quantitative"}}},
{"data": {"values": [{}]}, "mark": {"type": "text", "text": "FELICE", "align": "left", "baseline": "middle", "font": "Lato", "fontSize": 24, "color": "#111111"},
 "encoding": {"x": {"datum": -240, "type": "quantitative"}, "y": {"datum": 9.05, "type": "quantitative"}}}
]
}
],
"resolve": {"scale": {"x": "independent", "y": "independent"}}
}
